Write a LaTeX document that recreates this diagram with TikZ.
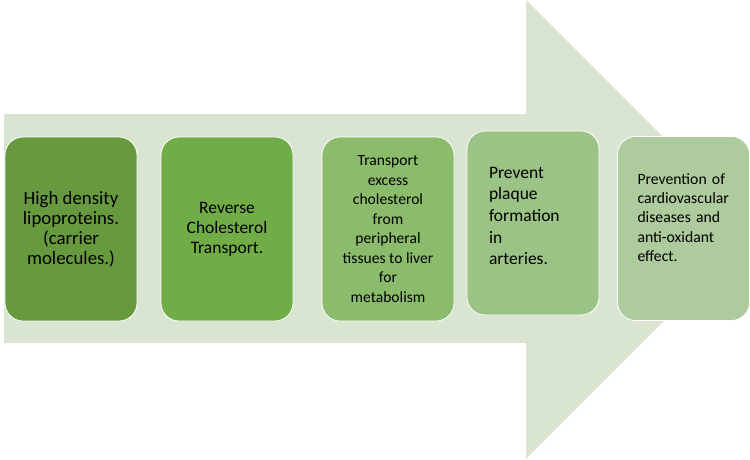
\documentclass[tikz,border=0pt]{standalone}
\usepackage{fontspec}
\setmainfont{Carlito}
\usetikzlibrary{positioning}
\definecolor{arrowbg}{HTML}{D9E4D1}
\definecolor{green_a}{HTML}{679A3F}
\definecolor{green_b}{HTML}{70AD47}
\definecolor{green_c}{HTML}{8BBC6B}
\definecolor{green_d}{HTML}{9CC386}
\definecolor{green_e}{HTML}{ADCB9C}

\begin{document}
\begin{tikzpicture}
[x=1pt, y=-1pt,
block_normal/.style ={rectangle, draw=white, line width=0.8pt, rounded corners=18pt, minimum width=132pt, minimum height=184pt, inner sep=0pt, text=black, align=center, font=\fontsize{17.5}{20}\selectfont},
block_left/.style ={block_normal, align=left, text width=88pt, inner xsep=22pt},
arrow_back/.style ={fill=arrowbg, draw=none}]

\useasboundingbox (0,0) rectangle (750,459);

%grosser Pfeil
\begin{scope}
\clip (0,0) rectangle (750,459);
\fill[arrow_back] (4,114) -- (526,114) -- (526,0) -- (755.5,229.5) -- (526,459) -- (526,343) -- (4,343) -- cycle;
\end{scope}

%Bloecke
\node [block_normal, fill=green_a, font=\fontsize{18.8}{20}\selectfont] (b1) at (71,229) {High density\\lipoproteins.\\(carrier\\molecules.)};
\node [block_normal, fill=green_b] (b2) at (227,229) {Reverse\\Cholesterol\\Transport.};
\node [block_normal, fill=green_c, font=\fontsize{15.6}{19.5}\selectfont] (b3) at (388,229) {Transport\\excess\\cholesterol\\from\\peripheral\\tissues to liver\\for\\metabolism};
\node [block_left, fill=green_d, font=\fontsize{17.5}{21.7}\selectfont] (b4) at (533,223) {Prevent\\plaque\\formation\\in\\arteries.\par\vspace{14pt}};
\node [block_left, fill=green_e, text width=92pt, inner xsep=20pt, font=\fontsize{15.7}{19.3}\selectfont] (b5) at (683.5,228.5) {Prevention of\\cardiovascular\\diseases and\\anti-oxidant\\effect.\par\vspace{22pt}};

\end{tikzpicture}
\end{document}
